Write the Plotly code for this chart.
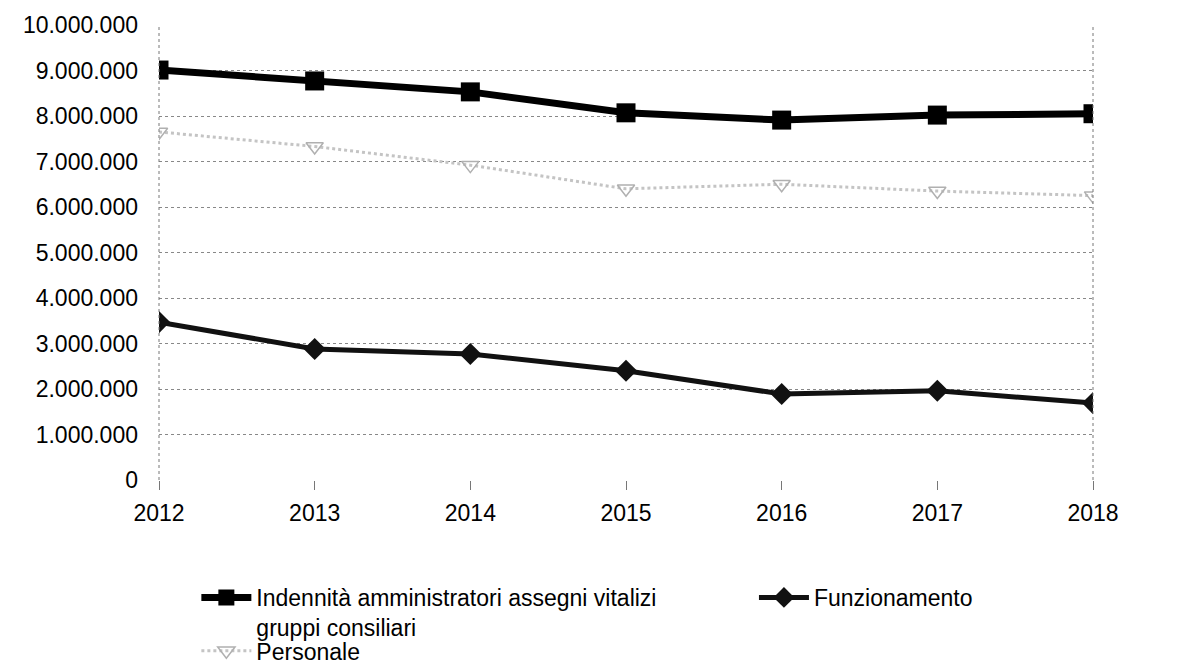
import plotly.graph_objects as go

years = [2012, 2013, 2014, 2015, 2016, 2017, 2018]
indennita = [9010000, 8770000, 8530000, 8070000, 7910000, 8020000, 8050000]
personale = [7650000, 7330000, 6920000, 6400000, 6500000, 6350000, 6250000]
funzionamento = [3470000, 2880000, 2770000, 2400000, 1890000, 1960000, 1690000]

name_ind = "Indennità amministratori assegni vitalizi<br>gruppi consiliari"
name_fun = "Funzionamento"
name_per = "Personale"

y_ticks = list(range(0, 10000001, 1000000))
x_ticks = years

fig = go.Figure()
fig.add_trace(go.Scatter(
    x=years, y=indennita, name=name_ind, mode="lines+markers",
    line=dict(color="black", width=7),
    marker=dict(symbol="square", size=19, color="black"),
    legend="legend",
))
fig.add_trace(go.Scatter(
    x=years, y=funzionamento, name=name_fun, mode="lines+markers",
    line=dict(color="#111111", width=5),
    marker=dict(symbol="diamond", size=17, color="#111111"),
    legend="legend3",
))
fig.add_trace(go.Scatter(
    x=years, y=personale, name=name_per, mode="lines+markers",
    line=dict(color="#c4c4c4", width=3, dash="dot"),
    marker=dict(symbol="triangle-down-open", size=15, color="#b0b0b0",
                line=dict(width=1.5, color="#b0b0b0")),
    legend="legend2",
))

# dotted plot-area side borders
for xd in (0, 1):
    fig.add_shape(type="line", xref="x domain", yref="y domain",
                  x0=xd, x1=xd, y0=0, y1=1,
                  line=dict(color="#777777", width=1, dash="dot"))

leg_common = dict(orientation="h", xanchor="left", yanchor="top", valign="top",
                  itemwidth=50, font=dict(size=23), bgcolor="rgba(0,0,0,0)")

fig.update_layout(
    width=1177, height=668,
    margin=dict(l=151, r=92, t=17, b=196, autoexpand=False),
    paper_bgcolor="white", plot_bgcolor="white",
    separators=",.",
    font=dict(family="Liberation Sans, Arial, sans-serif", size=23, color="black"),
    showlegend=True,
    legend=dict(x=0.04, y=-0.211, **leg_common),
    legend2=dict(x=0.04, y=-0.328, **leg_common),
    legend3=dict(x=0.637, y=-0.211, **leg_common),
)
fig.update_xaxes(
    range=[2012, 2018], tickvals=x_ticks, ticktext=[str(v) for v in x_ticks],
    showgrid=False, zeroline=False, showline=False, automargin=False,
    ticks="outside", ticklen=9, tickcolor="#777777", tickwidth=1,
    ticklabelstandoff=3, tickfont=dict(size=23),
)
fig.update_yaxes(
    range=[0, 10000000], tickvals=y_ticks, tickformat=",d",
    showgrid=True, gridcolor="#888888", griddash="dot", gridwidth=1,
    zeroline=False, showline=False, ticks="", ticklabelstandoff=20, automargin=False,
    tickfont=dict(size=23),
)

fig.write_html("out.html")
